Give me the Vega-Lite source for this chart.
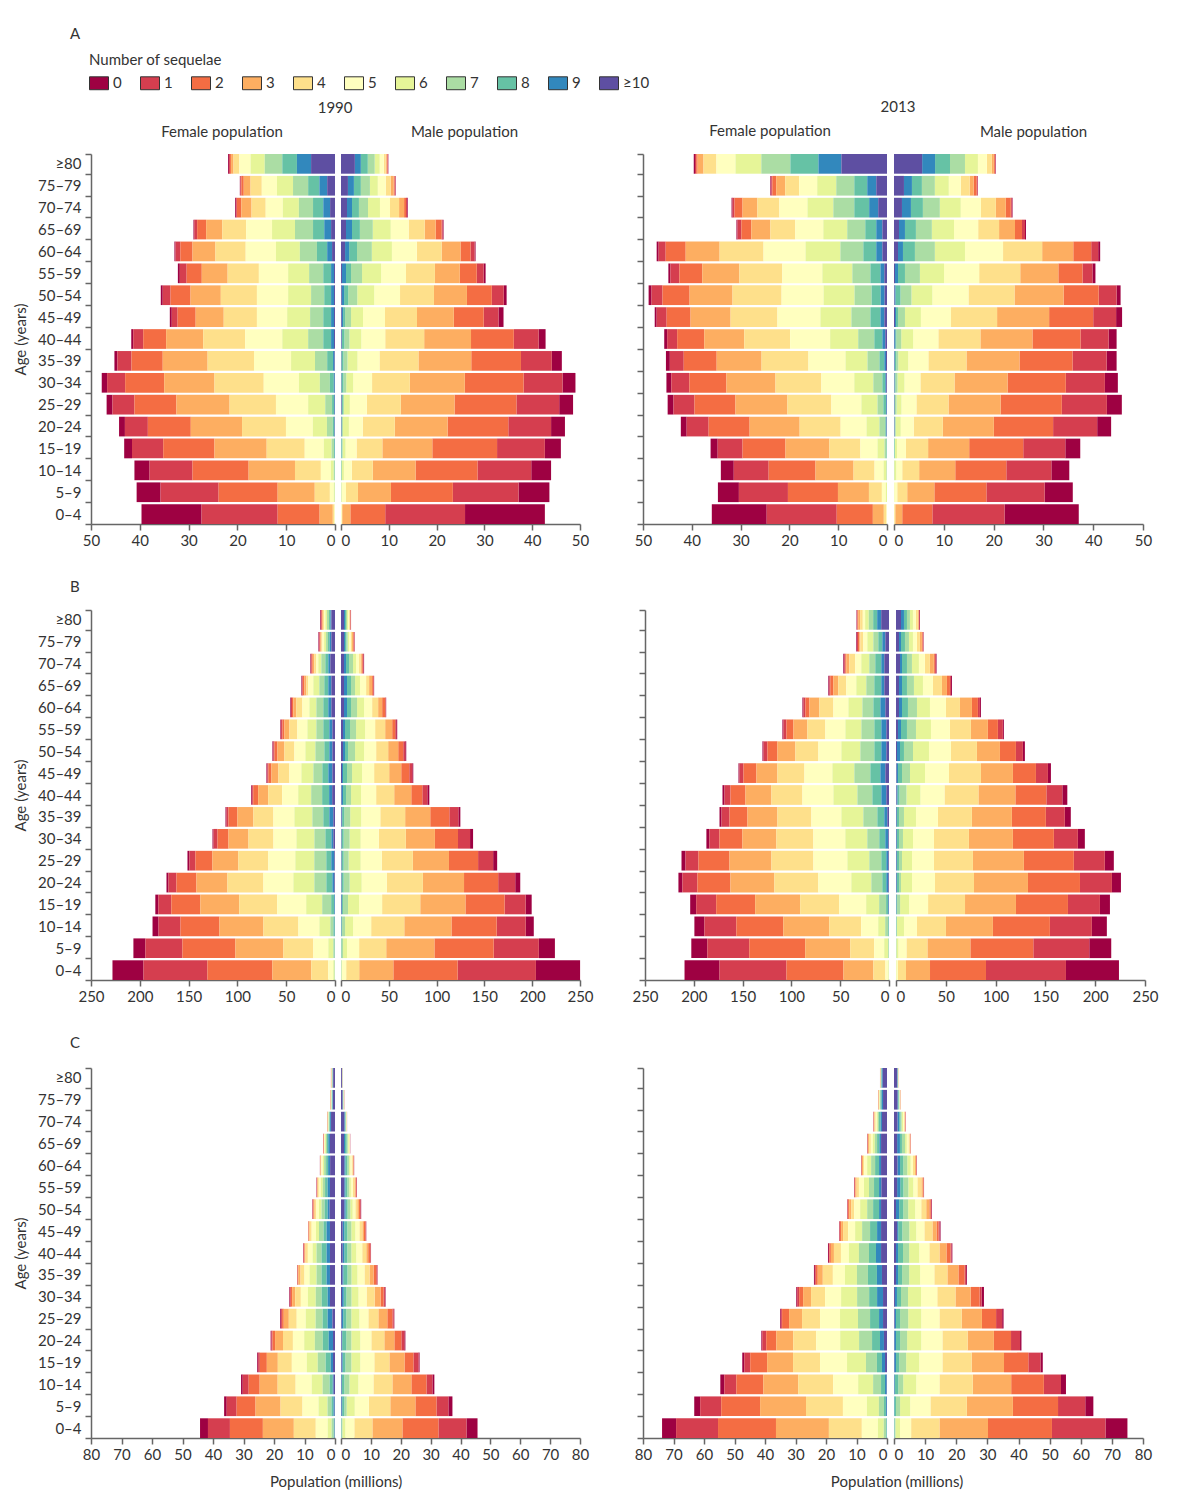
{
"$schema":"https://vega.github.io/schema/vega-lite/v6.json",
"padding":{"left":13,"top":27,"right":5,"bottom":5},
"background":"white",
"datasets":{"d":[
{"p":"A90F","a":"≥80","0":0.2,"1":0.2,"2":0.2,"3":0.5,"4":1.2,"5":2.3,"6":2.9,"7":3.6,"8":3.0,"9":2.9,"≥10":4.9},
{"p":"A90F","a":"75–79","0":0.1,"1":0.2,"2":0.5,"3":1.4,"4":2.3,"5":3.1,"6":3.3,"7":3.1,"8":2.3,"9":1.6,"≥10":1.6},
{"p":"A90F","a":"70–74","0":0.2,"1":0.15,"2":0.9,"3":2.1,"4":2.9,"5":3.5,"6":3.3,"7":2.9,"8":2.1,"9":1.4,"≥10":1.0},
{"p":"A90F","a":"65–69","0":0.15,"1":0.6,"2":1.85,"3":3.3,"4":4.9,"5":5.3,"6":4.7,"7":3.7,"8":2.3,"9":1.4,"≥10":0.8},
{"p":"A90F","a":"60–64","0":0.2,"1":1.0,"2":2.5,"3":4.7,"4":6.2,"5":6.2,"6":4.9,"7":3.5,"8":2.1,"9":1.0,"≥10":0.6},
{"p":"A90F","a":"55–59","0":0.4,"1":1.4,"2":3.1,"3":5.3,"4":6.4,"5":6.0,"6":4.3,"7":2.9,"8":1.6,"9":0.6,"≥10":0.2},
{"p":"A90F","a":"50–54","0":0.4,"1":1.6,"2":4.1,"3":6.2,"4":7.4,"5":6.4,"6":4.7,"7":2.7,"8":1.4,"9":0.6,"≥10":0.2},
{"p":"A90F","a":"45–49","0":0.4,"1":1.2,"2":3.7,"3":5.75,"4":6.8,"5":6.2,"6":4.7,"7":2.7,"8":1.6,"9":0.6,"≥10":0.2},
{"p":"A90F","a":"40–44","0":0.4,"1":2.05,"2":4.7,"3":7.6,"4":8.6,"5":7.6,"6":5.3,"7":3.1,"8":1.6,"9":0.6,"≥10":0.2},
{"p":"A90F","a":"35–39","0":0.6,"1":2.9,"2":6.4,"3":9.2,"4":9.5,"5":7.6,"6":4.9,"7":2.5,"8":1.2,"9":0.3,"≥10":0.1},
{"p":"A90F","a":"30–34","0":1.1,"1":3.7,"2":8.0,"3":10.3,"4":10.1,"5":7.2,"6":4.3,"7":2.05,"8":0.8,"9":0.2,"≥10":0.05},
{"p":"A90F","a":"25–29","0":1.2,"1":4.5,"2":8.6,"3":10.9,"4":9.5,"5":6.6,"6":3.5,"7":1.4,"8":0.4,"9":0.15,"≥10":0.05},
{"p":"A90F","a":"20–24","0":1.2,"1":4.7,"2":8.8,"3":10.5,"4":9.0,"5":5.5,"6":2.9,"7":1.2,"8":0.3,"9":0.1,"≥10":0.05},
{"p":"A90F","a":"15–19","0":1.6,"1":6.4,"2":10.5,"3":10.7,"4":7.8,"5":3.9,"6":1.6,"7":0.5,"8":0.15,"9":0.05,"≥10":0},
{"p":"A90F","a":"10–14","0":3.1,"1":8.8,"2":11.5,"3":9.5,"4":5.3,"5":2.05,"6":0.6,"7":0.2,"8":0.05,"9":0,"≥10":0},
{"p":"A90F","a":"5–9","0":4.9,"1":11.9,"2":12.1,"3":7.6,"4":3.1,"5":0.8,"6":0.2,"7":0.05,"8":0,"9":0,"≥10":0},
{"p":"A90F","a":"0–4","0":12.3,"1":15.6,"2":8.6,"3":2.7,"4":0.3,"5":0.1,"6":0.05,"7":0,"8":0,"9":0,"≥10":0},
{"p":"A90M","a":"≥80","0":0.1,"1":0.1,"2":0.15,"3":0.2,"4":0.4,"5":0.85,"6":1.05,"7":1.45,"8":1.45,"9":1.25,"≥10":2.9},
{"p":"A90M","a":"75–79","0":0.1,"1":0.15,"2":0.2,"3":0.6,"4":1.05,"5":1.65,"6":1.65,"7":1.9,"8":1.45,"9":1.25,"≥10":1.45},
{"p":"A90M","a":"70–74","0":0.15,"1":0.2,"2":0.4,"3":1.05,"4":1.9,"5":2.1,"6":2.5,"7":1.9,"8":1.45,"9":1.05,"≥10":1.25},
{"p":"A90M","a":"65–69","0":0.2,"1":0.2,"2":1.25,"3":2.3,"4":3.35,"5":3.75,"6":3.75,"7":2.7,"8":1.65,"9":1.25,"≥10":1.05},
{"p":"A90M","a":"60–64","0":0.2,"1":0.85,"2":2.1,"3":3.95,"4":5.2,"5":5.2,"6":4.2,"7":3.1,"8":1.65,"9":0.85,"≥10":0.85},
{"p":"A90M","a":"55–59","0":0.4,"1":1.45,"2":3.55,"3":5.2,"4":6.05,"5":5.2,"6":4.0,"7":2.3,"8":1.05,"9":0.85,"≥10":0.2},
{"p":"A90M","a":"50–54","0":0.6,"1":2.5,"2":5.2,"3":6.9,"4":7.1,"5":5.4,"6":3.55,"7":1.9,"8":0.85,"9":0.5,"≥10":0.15},
{"p":"A90M","a":"45–49","0":1.05,"1":3.1,"2":6.25,"3":7.7,"4":6.7,"5":4.6,"6":2.5,"7":1.25,"8":0.4,"9":0.3,"≥10":0.15},
{"p":"A90M","a":"40–44","0":1.45,"1":5.2,"2":8.95,"3":9.8,"4":8.15,"5":5.0,"6":2.5,"7":1.05,"8":0.5,"9":0.1,"≥10":0.1},
{"p":"A90M","a":"35–39","0":2.1,"1":6.45,"2":10.4,"3":11.05,"4":8.15,"5":4.6,"6":2.1,"7":0.85,"8":0.4,"9":0.05,"≥10":0.05},
{"p":"A90M","a":"30–34","0":2.7,"1":8.15,"2":12.3,"3":11.5,"4":7.9,"5":3.95,"6":1.45,"7":0.6,"8":0.4,"9":0.05,"≥10":0.05},
{"p":"A90M","a":"25–29","0":2.9,"1":8.95,"2":12.95,"3":11.25,"4":7.1,"5":3.55,"6":1.25,"7":0.2,"8":0.25,"9":0.05,"≥10":0.1},
{"p":"A90M","a":"20–24","0":2.9,"1":8.95,"2":12.7,"3":11.05,"4":6.7,"5":2.9,"6":1.25,"7":0.2,"8":0.1,"9":0.05,"≥10":0.05},
{"p":"A90M","a":"15–19","0":3.35,"1":10.0,"2":13.55,"3":10.45,"4":5.4,"5":2.3,"6":0.6,"7":0.2,"8":0.1,"9":0.05,"≥10":0},
{"p":"A90M","a":"10–14","0":4.15,"1":11.25,"2":12.95,"3":8.95,"4":4.4,"5":1.65,"6":0.4,"7":0.15,"8":0.05,"9":0,"≥10":0},
{"p":"A90M","a":"5–9","0":6.45,"1":13.75,"2":12.95,"3":6.9,"4":2.5,"5":0.9,"6":0.1,"7":0.05,"8":0,"9":0,"≥10":0},
{"p":"A90M","a":"0–4","0":16.7,"1":16.7,"2":7.3,"3":1.7,"4":0.1,"5":0.15,"6":0,"7":0,"8":0,"9":0,"≥10":0},
{"p":"A13F","a":"≥80","0":0.25,"1":0.25,"2":0.3,"3":1.2,"4":2.65,"5":3.9,"6":5.3,"7":5.95,"8":5.75,"9":4.7,"≥10":9.35},
{"p":"A13F","a":"75–79","0":0.2,"1":0.2,"2":0.8,"3":1.85,"4":2.85,"5":3.7,"6":3.9,"7":3.7,"8":2.65,"9":1.85,"≥10":2.2},
{"p":"A13F","a":"70–74","0":0.2,"1":0.4,"2":1.65,"3":3.05,"4":4.5,"5":5.75,"6":5.3,"7":4.3,"8":3.05,"9":1.85,"≥10":1.8},
{"p":"A13F","a":"65–69","0":0.2,"1":0.8,"2":2.05,"3":3.9,"4":5.1,"5":5.75,"6":4.9,"7":3.7,"8":2.25,"9":1.25,"≥10":0.95},
{"p":"A13F","a":"60–64","0":0.4,"1":1.45,"2":4.1,"3":6.95,"4":9.0,"5":8.6,"6":7.15,"7":4.7,"8":2.65,"9":1.25,"≥10":0.95},
{"p":"A13F","a":"55–59","0":0.4,"1":1.85,"2":4.7,"3":7.6,"4":8.8,"5":8.2,"6":6.15,"7":3.7,"8":2.05,"9":0.8,"≥10":0.55},
{"p":"A13F","a":"50–54","0":0.6,"1":2.25,"2":5.55,"3":8.8,"4":10.05,"5":8.6,"6":6.35,"7":3.5,"8":1.85,"9":0.8,"≥10":0.5},
{"p":"A13F","a":"45–49","0":0.4,"1":2.05,"2":4.9,"3":8.2,"4":9.6,"5":8.8,"6":6.35,"7":3.9,"8":2.05,"9":0.8,"≥10":0.55},
{"p":"A13F","a":"40–44","0":0.6,"1":2.05,"2":5.55,"3":8.2,"4":9.4,"5":8.2,"6":5.75,"7":3.3,"8":1.65,"9":0.6,"≥10":0.35},
{"p":"A13F","a":"35–39","0":0.8,"1":2.85,"2":6.75,"3":9.2,"4":9.6,"5":7.6,"6":4.5,"7":2.45,"8":1.0,"9":0.35,"≥10":0.2},
{"p":"A13F","a":"30–34","0":1.0,"1":3.7,"2":7.6,"3":10.05,"4":9.4,"5":6.75,"6":3.9,"7":1.85,"8":0.6,"9":0.2,"≥10":0.15},
{"p":"A13F","a":"25–29","0":1.2,"1":4.3,"2":8.4,"3":10.65,"4":9.0,"5":6.15,"6":3.3,"7":1.2,"8":0.55,"9":0.15,"≥10":0.05},
{"p":"A13F","a":"20–24","0":1.2,"1":4.5,"2":8.4,"3":10.25,"4":8.4,"5":5.3,"6":2.65,"7":1.2,"8":0.2,"9":0.1,"≥10":0.05},
{"p":"A13F","a":"15–19","0":1.45,"1":5.1,"2":8.8,"3":9.0,"4":6.35,"5":3.5,"6":1.45,"7":0.4,"8":0.1,"9":0,"≥10":0},
{"p":"A13F","a":"10–14","0":2.65,"1":7.15,"2":9.6,"3":7.8,"4":4.3,"5":1.85,"6":0.6,"7":0.1,"8":0,"9":0,"≥10":0},
{"p":"A13F","a":"5–9","0":4.3,"1":10.05,"2":10.25,"3":6.35,"4":2.65,"5":0.8,"6":0.25,"7":0,"8":0,"9":0,"≥10":0},
{"p":"A13F","a":"0–4","0":11.25,"1":14.35,"2":7.4,"3":2.25,"4":0.55,"5":0.1,"6":0,"7":0,"8":0,"9":0,"≥10":0},
{"p":"A13M","a":"≥80","0":0.1,"1":0.1,"2":0.2,"3":0.4,"4":1.0,"5":1.8,"6":2.6,"7":3.0,"8":3.0,"9":2.6,"≥10":5.65},
{"p":"A13M","a":"75–79","0":0.1,"1":0.15,"2":0.6,"3":0.8,"4":1.8,"5":2.4,"6":2.8,"7":2.6,"8":2.0,"9":1.6,"≥10":2.0},
{"p":"A13M","a":"70–74","0":0.15,"1":0.2,"2":1.0,"3":2.0,"4":3.0,"5":4.05,"6":4.2,"7":3.4,"8":2.4,"9":1.8,"≥10":1.6},
{"p":"A13M","a":"65–69","0":0.2,"1":0.6,"2":1.4,"3":3.2,"4":4.2,"5":4.85,"6":4.45,"7":3.2,"8":2.2,"9":1.2,"≥10":1.0},
{"p":"A13M","a":"60–64","0":0.4,"1":1.4,"2":3.6,"3":6.25,"4":7.85,"5":7.65,"6":6.05,"7":4.0,"8":2.4,"9":1.0,"≥10":0.8},
{"p":"A13M","a":"55–59","0":0.6,"1":2.0,"2":4.85,"3":7.65,"4":8.25,"5":7.05,"6":4.85,"7":3.0,"8":1.4,"9":0.6,"≥10":0.2},
{"p":"A13M","a":"50–54","0":0.8,"1":3.6,"2":7.05,"3":9.85,"4":9.25,"5":7.25,"6":4.2,"7":2.2,"8":1.0,"9":0.2,"≥10":0.1},
{"p":"A13M","a":"45–49","0":1.2,"1":4.6,"2":8.85,"3":10.45,"4":9.25,"5":6.05,"6":3.2,"7":1.4,"8":0.4,"9":0.2,"≥10":0.2},
{"p":"A13M","a":"40–44","0":1.6,"1":5.65,"2":9.65,"3":10.45,"4":8.45,"5":5.05,"6":2.4,"7":1.0,"8":0.2,"9":0.2,"≥10":0.05},
{"p":"A13M","a":"35–39","0":2.0,"1":6.85,"2":10.65,"3":10.65,"4":7.65,"5":4.05,"6":2.0,"7":0.4,"8":0.3,"9":0.1,"≥10":0.05},
{"p":"A13M","a":"30–34","0":2.6,"1":7.85,"2":11.7,"3":10.65,"4":6.85,"5":3.2,"6":1.4,"7":0.4,"8":0.2,"9":0.05,"≥10":0.05},
{"p":"A13M","a":"25–29","0":3.0,"1":9.05,"2":12.3,"3":10.45,"4":6.45,"5":3.0,"6":1.0,"7":0.3,"8":0.1,"9":0.05,"≥10":0.05},
{"p":"A13M","a":"20–24","0":2.8,"1":8.85,"2":11.9,"3":10.25,"4":5.85,"5":2.6,"6":1.0,"7":0.2,"8":0.05,"9":0.05,"≥10":0.05},
{"p":"A13M","a":"15–19","0":3.0,"1":8.45,"2":10.85,"3":8.25,"4":4.45,"5":1.8,"6":0.4,"7":0.1,"8":0.1,"9":0,"≥10":0},
{"p":"A13M","a":"10–14","0":3.6,"1":9.05,"2":10.25,"3":7.25,"4":3.4,"5":1.2,"6":0.4,"7":0.05,"8":0,"9":0,"≥10":0},
{"p":"A13M","a":"5–9","0":5.65,"1":11.7,"2":10.45,"3":5.45,"4":2.0,"5":0.6,"6":0.05,"7":0,"8":0,"9":0,"≥10":0},
{"p":"A13M","a":"0–4","0":14.9,"1":14.5,"2":6.05,"3":1.4,"4":0.2,"5":0.05,"6":0,"7":0,"8":0,"9":0,"≥10":0},
{"p":"B90F","a":"≥80","0":0.7,"1":0.7,"2":0.7,"3":0.7,"4":1.0,"5":1.4,"6":1.7,"7":2.0,"8":1.4,"9":1.0,"≥10":3.75},
{"p":"B90F","a":"75–79","0":0.7,"1":0.7,"2":0.7,"3":1.0,"4":1.0,"5":1.7,"6":2.0,"7":2.0,"8":1.7,"9":1.7,"≥10":3.75},
{"p":"B90F","a":"70–74","0":0.7,"1":0.7,"2":1.0,"3":1.7,"4":2.0,"5":2.0,"6":3.1,"7":4.1,"8":3.1,"9":2.0,"≥10":4.8},
{"p":"B90F","a":"65–69","0":0.7,"1":0.7,"2":1.7,"3":2.0,"4":2.0,"5":5.1,"6":6.15,"7":5.1,"8":4.1,"9":3.1,"≥10":3.75},
{"p":"B90F","a":"60–64","0":0.7,"1":1.0,"2":1.4,"3":3.1,"4":6.15,"5":7.15,"6":7.15,"7":7.15,"8":5.1,"9":3.1,"≥10":3.75},
{"p":"B90F","a":"55–59","0":0.7,"1":1.4,"2":2.0,"3":5.1,"4":8.2,"5":10.25,"6":9.2,"7":7.15,"8":6.15,"9":3.1,"≥10":2.7},
{"p":"B90F","a":"50–54","0":1.0,"1":1.0,"2":3.1,"3":7.15,"4":10.25,"5":11.25,"6":10.25,"7":9.2,"8":5.1,"9":3.1,"≥10":2.7},
{"p":"B90F","a":"45–49","0":1.0,"1":1.0,"2":3.1,"3":7.15,"4":11.25,"5":12.3,"6":12.3,"7":9.2,"8":6.15,"9":4.1,"≥10":2.7},
{"p":"B90F","a":"40–44","0":1.0,"1":1.0,"2":5.1,"3":10.25,"4":14.35,"5":16.4,"6":13.3,"7":11.25,"8":7.15,"9":3.1,"≥10":2.9},
{"p":"B90F","a":"35–39","0":1.0,"1":2.0,"2":9.2,"3":16.4,"4":20.5,"5":21.5,"6":18.4,"7":11.25,"8":6.15,"9":4.1,"≥10":1.7},
{"p":"B90F","a":"30–34","0":1.0,"1":4.1,"2":11.25,"3":20.5,"4":25.6,"5":23.55,"6":18.4,"7":11.25,"8":6.15,"9":2.0,"≥10":1.7},
{"p":"B90F","a":"25–29","0":2.0,"1":6.15,"2":17.4,"3":26.6,"4":30.7,"5":27.65,"6":19.45,"7":12.3,"8":5.1,"9":3.1,"≥10":0.7},
{"p":"B90F","a":"20–24","0":2.0,"1":8.2,"2":20.5,"3":31.75,"4":36.85,"5":30.7,"6":21.5,"7":12.3,"8":6.15,"9":2.0,"≥10":0.7},
{"p":"B90F","a":"15–19","0":3.1,"1":13.3,"2":29.7,"3":39.9,"4":38.9,"5":29.7,"6":16.4,"7":9.2,"8":3.1,"9":0.7,"≥10":0.1},
{"p":"B90F","a":"10–14","0":6.15,"1":22.5,"2":39.9,"3":45.05,"4":35.85,"5":21.5,"6":11.25,"7":3.1,"8":1.4,"9":0.2,"≥10":0.05},
{"p":"B90F","a":"5–9","0":12.3,"1":37.9,"2":54.3,"3":49.15,"4":30.7,"5":15.35,"6":5.1,"7":1.4,"8":0.3,"9":0.05,"≥10":0},
{"p":"B90F","a":"0–4","0":31.75,"1":65.5,"2":66.55,"3":39.9,"4":17.4,"5":5.1,"6":1.4,"7":0.3,"8":0.1,"9":0,"≥10":0},
{"p":"B90M","a":"≥80","0":0.35,"1":0.35,"2":0.35,"3":0.35,"4":0.7,"5":1.05,"6":1.05,"7":1.05,"8":1.05,"9":1.05,"≥10":3.15},
{"p":"B90M","a":"75–79","0":0.35,"1":0.7,"2":0.7,"3":1.05,"4":1.4,"5":1.75,"6":1.4,"7":1.4,"8":1.4,"9":1.05,"≥10":3.15},
{"p":"B90M","a":"70–74","0":0.7,"1":0.7,"2":1.05,"3":1.05,"4":1.75,"5":3.15,"6":3.15,"7":4.2,"8":3.15,"9":2.1,"≥10":3.15},
{"p":"B90M","a":"65–69","0":0.35,"1":0.7,"2":1.05,"3":3.15,"4":3.15,"5":6.3,"6":5.25,"7":4.2,"8":4.2,"9":3.15,"≥10":3.15},
{"p":"B90M","a":"60–64","0":0.35,"1":0.7,"2":3.15,"3":4.2,"4":6.3,"5":8.4,"6":7.35,"7":6.3,"8":4.2,"9":3.15,"≥10":3.15},
{"p":"B90M","a":"55–59","0":1.05,"1":1.05,"2":3.15,"3":7.35,"4":10.5,"5":10.5,"6":9.45,"7":6.3,"8":5.25,"9":2.1,"≥10":2.1},
{"p":"B90M","a":"50–54","0":1.05,"1":2.1,"2":5.25,"3":10.5,"4":12.6,"5":12.6,"6":9.45,"7":7.35,"8":3.15,"9":2.1,"≥10":2.1},
{"p":"B90M","a":"45–49","0":1.05,"1":3.15,"2":8.4,"3":12.6,"4":15.75,"5":12.6,"6":10.5,"7":5.25,"8":4.2,"9":1.05,"≥10":1.05},
{"p":"B90M","a":"40–44","0":2.1,"1":5.25,"2":11.55,"3":17.85,"4":18.9,"5":15.75,"6":10.5,"7":5.25,"8":3.15,"9":1.6,"≥10":0.5},
{"p":"B90M","a":"35–39","0":2.1,"1":9.45,"2":19.95,"3":26.25,"4":26.0,"5":19.95,"6":11.55,"7":6.3,"8":2.1,"9":0.7,"≥10":0.5},
{"p":"B90M","a":"30–34","0":3.15,"1":12.6,"2":24.15,"3":30.45,"4":28.35,"5":18.9,"6":11.55,"7":6.3,"8":2.1,"9":0.3,"≥10":0.3},
{"p":"B90M","a":"25–29","0":4.2,"1":15.75,"2":30.45,"3":37.8,"4":32.55,"5":22.05,"6":12.6,"7":5.25,"8":2.1,"9":0.3,"≥10":0.3},
{"p":"B90M","a":"20–24","0":5.25,"1":17.85,"2":35.7,"3":43.05,"4":37.8,"5":26.25,"6":12.6,"7":6.3,"8":2.1,"9":0.3,"≥10":0.3},
{"p":"B90M","a":"15–19","0":6.3,"1":22.05,"2":40.95,"3":47.25,"4":39.9,"5":24.15,"6":11.55,"7":5.25,"8":1.05,"9":0.7,"≥10":0.3},
{"p":"B90M","a":"10–14","0":8.4,"1":30.45,"2":47.25,"3":49.35,"4":34.65,"5":18.9,"6":8.4,"7":3.15,"8":0.7,"9":0.3,"≥10":0.1},
{"p":"B90M","a":"5–9","0":16.8,"1":47.25,"2":62.0,"3":50.4,"4":28.35,"5":12.6,"6":4.2,"7":1.75,"8":0.3,"9":0.1,"≥10":0},
{"p":"B90M","a":"0–4","0":46.2,"1":81.95,"2":67.2,"3":35.7,"4":13.65,"5":4.5,"6":0.5,"7":0.3,"8":0.1,"9":0,"≥10":0},
{"p":"B13F","a":"≥80","0":0.5,"1":0.5,"2":0.7,"3":2.0,"4":2.7,"5":2.4,"6":3.75,"7":4.5,"8":4.1,"9":4.1,"≥10":8.0},
{"p":"B13F","a":"75–79","0":0.7,"1":1.0,"2":1.4,"3":1.0,"4":3.1,"5":4.1,"6":6.15,"7":5.1,"8":4.1,"9":3.1,"≥10":3.75},
{"p":"B13F","a":"70–74","0":1.0,"1":1.0,"2":1.0,"3":3.1,"4":6.15,"5":6.15,"6":8.2,"7":6.15,"8":6.15,"9":3.1,"≥10":4.8},
{"p":"B13F","a":"65–69","0":1.0,"1":1.0,"2":3.1,"3":5.1,"4":8.2,"5":10.25,"6":10.25,"7":8.2,"8":7.15,"9":3.1,"≥10":4.8},
{"p":"B13F","a":"60–64","0":1.0,"1":2.05,"2":4.1,"3":10.25,"4":14.35,"5":15.35,"6":14.35,"7":11.25,"8":7.15,"9":5.1,"≥10":3.75},
{"p":"B13F","a":"55–59","0":1.0,"1":3.1,"2":7.15,"3":14.35,"4":18.4,"5":20.5,"6":16.4,"7":13.3,"8":7.15,"9":5.1,"≥10":2.75},
{"p":"B13F","a":"50–54","0":1.0,"1":4.1,"2":10.25,"3":18.4,"4":23.55,"5":23.55,"6":19.45,"7":14.35,"8":7.15,"9":5.1,"≥10":2.75},
{"p":"B13F","a":"45–49","0":1.0,"1":4.1,"2":13.3,"3":21.5,"4":27.65,"5":28.65,"6":22.5,"7":16.4,"8":10.25,"9":5.1,"≥10":3.75},
{"p":"B13F","a":"40–44","0":2.05,"1":6.15,"2":15.35,"3":26.6,"4":31.75,"5":31.75,"6":24.55,"7":15.35,"8":9.2,"9":5.1,"≥10":2.75},
{"p":"B13F","a":"35–39","0":2.05,"1":8.2,"2":18.4,"3":30.7,"4":34.8,"5":30.7,"6":22.5,"7":14.35,"8":7.15,"9":3.1,"≥10":1.7},
{"p":"B13F","a":"30–34","0":3.1,"1":10.25,"2":23.55,"3":34.8,"4":37.9,"5":32.75,"6":22.5,"7":12.3,"8":6.15,"9":3.1,"≥10":0.7},
{"p":"B13F","a":"25–29","0":4.1,"1":13.3,"2":31.75,"3":43.0,"4":43.0,"5":34.8,"6":22.5,"7":12.3,"8":5.1,"9":2.05,"≥10":0.7},
{"p":"B13F","a":"20–24","0":4.1,"1":15.35,"2":33.8,"3":45.05,"4":45.05,"5":33.8,"6":20.5,"7":11.25,"8":4.1,"9":2.05,"≥10":0.7},
{"p":"B13F","a":"15–19","0":6.15,"1":20.5,"2":39.95,"3":46.1,"4":39.95,"5":27.65,"6":13.3,"7":7.15,"8":2.05,"9":0.7,"≥10":0.2},
{"p":"B13F","a":"10–14","0":10.25,"1":32.75,"2":48.1,"3":47.1,"4":32.75,"5":17.4,"6":7.15,"7":3.1,"8":0.7,"9":0.1,"≥10":0},
{"p":"B13F","a":"5–9","0":16.4,"1":43.0,"2":57.35,"3":46.1,"4":24.55,"5":10.25,"6":4.1,"7":0.7,"8":0.1,"9":0,"≥10":0},
{"p":"B13F","a":"0–4","0":35.85,"1":68.6,"2":58.35,"3":30.7,"4":12.3,"5":3.1,"6":0.5,"7":0.1,"8":0,"9":0,"≥10":0},
{"p":"B13M","a":"≥80","0":0.7,"1":0.35,"2":0.35,"3":0.7,"4":2.0,"5":3.0,"6":3.0,"7":3.0,"8":3.0,"9":3.0,"≥10":5.0},
{"p":"B13M","a":"75–79","0":0.35,"1":0.7,"2":0.7,"3":2.0,"4":3.0,"5":4.0,"6":4.0,"7":4.0,"8":4.0,"9":2.0,"≥10":3.0},
{"p":"B13M","a":"70–74","0":0.7,"1":1.0,"2":1.0,"3":4.0,"4":5.0,"5":6.0,"6":7.0,"7":5.0,"8":5.0,"9":2.0,"≥10":4.0},
{"p":"B13M","a":"65–69","0":1.0,"1":1.0,"2":3.0,"3":5.0,"4":9.05,"5":10.05,"6":9.05,"7":7.0,"8":5.0,"9":3.0,"≥10":3.0},
{"p":"B13M","a":"60–64","0":1.0,"1":2.0,"2":6.0,"3":12.05,"4":14.05,"5":16.05,"6":13.05,"7":9.05,"8":6.0,"9":3.0,"≥10":3.0},
{"p":"B13M","a":"55–59","0":1.0,"1":5.0,"2":10.05,"3":17.05,"4":21.05,"5":19.05,"6":15.05,"7":9.05,"8":6.0,"9":3.0,"≥10":2.0},
{"p":"B13M","a":"50–54","0":2.0,"1":7.0,"2":16.05,"3":23.1,"4":26.1,"5":22.05,"6":16.05,"7":9.05,"8":4.0,"9":3.0,"≥10":1.0},
{"p":"B13M","a":"45–49","0":3.0,"1":12.05,"2":23.1,"3":32.1,"4":32.1,"5":24.1,"6":15.05,"7":8.05,"8":4.0,"9":1.5,"≥10":0.5},
{"p":"B13M","a":"40–44","0":5.0,"1":16.05,"2":31.1,"3":37.1,"4":34.1,"5":24.1,"6":14.05,"7":7.0,"8":2.0,"9":1.0,"≥10":0.5},
{"p":"B13M","a":"35–39","0":6.0,"1":19.05,"2":34.1,"3":40.15,"4":34.1,"5":22.05,"6":12.05,"7":5.0,"8":2.0,"9":0.7,"≥10":0.3},
{"p":"B13M","a":"30–34","0":7.0,"1":24.1,"2":41.15,"3":44.15,"4":35.1,"5":21.05,"6":10.05,"7":4.0,"8":2.0,"9":0.7,"≥10":0.3},
{"p":"B13M","a":"25–29","0":9.05,"1":31.1,"2":50.15,"3":51.15,"4":39.15,"5":22.05,"6":10.05,"7":3.0,"8":2.0,"9":0.7,"≥10":0.3},
{"p":"B13M","a":"20–24","0":9.05,"1":32.1,"2":52.2,"3":54.2,"4":39.15,"5":23.1,"6":11.05,"7":2.0,"8":2.0,"9":0.7,"≥10":0.3},
{"p":"B13M","a":"15–19","0":10.05,"1":32.1,"2":52.2,"3":51.15,"4":37.1,"5":19.05,"6":9.05,"7":3.0,"8":0.7,"9":0.3,"≥10":0.1},
{"p":"B13M","a":"10–14","0":15.05,"1":42.15,"2":57.2,"3":47.15,"4":29.1,"5":13.05,"6":7.0,"7":0.6,"8":0.3,"9":0.1,"≥10":0},
{"p":"B13M","a":"5–9","0":22.05,"1":56.2,"2":63.2,"3":43.15,"4":21.05,"5":8.05,"6":2.0,"7":0.3,"8":0.1,"9":0,"≥10":0},
{"p":"B13M","a":"0–4","0":53.2,"1":80.3,"2":56.2,"3":24.1,"4":8.05,"5":1.5,"6":0.5,"7":0,"8":0,"9":0,"≥10":0},
{"p":"C90F","a":"≥80","0":0.03,"1":0.05,"2":0.05,"3":0.05,"4":0.05,"5":0.1,"6":0.1,"7":0.1,"8":0.1,"9":0.1,"≥10":0.6},
{"p":"C90F","a":"75–79","0":0.03,"1":0.05,"2":0.05,"3":0.05,"4":0.1,"5":0.1,"6":0.1,"7":0.15,"8":0.15,"9":0.15,"≥10":0.65},
{"p":"C90F","a":"70–74","0":0.05,"1":0.05,"2":0.05,"3":0.05,"4":0.1,"5":0.1,"6":0.15,"7":0.2,"8":0.25,"9":0.3,"≥10":1.3},
{"p":"C90F","a":"65–69","0":0.05,"1":0.1,"2":0.1,"3":0.1,"4":0.1,"5":0.2,"6":0.3,"7":0.3,"8":0.45,"9":0.55,"≥10":1.65},
{"p":"C90F","a":"60–64","0":0.05,"1":0.05,"2":0.1,"3":0.1,"4":0.2,"5":0.45,"6":0.45,"7":0.65,"8":0.65,"9":0.65,"≥10":1.6},
{"p":"C90F","a":"55–59","0":0.1,"1":0.1,"2":0.1,"3":0.2,"4":0.3,"5":0.65,"6":0.65,"7":0.75,"8":0.85,"9":0.75,"≥10":1.65},
{"p":"C90F","a":"50–54","0":0.1,"1":0.2,"2":0.2,"3":0.3,"4":0.55,"5":0.85,"6":0.85,"7":1.0,"8":1.0,"9":0.65,"≥10":1.75},
{"p":"C90F","a":"45–49","0":0.05,"1":0.1,"2":0.1,"3":0.3,"4":0.65,"5":1.4,"6":1.0,"7":1.5,"8":1.0,"9":1.1,"≥10":1.65},
{"p":"C90F","a":"40–44","0":0.1,"1":0.2,"2":0.2,"3":0.3,"4":0.75,"5":1.55,"6":1.3,"7":1.65,"8":1.65,"9":1.1,"≥10":1.65},
{"p":"C90F","a":"35–39","0":0.1,"1":0.1,"2":0.2,"3":0.75,"4":1.3,"5":1.65,"6":2.3,"7":1.65,"8":1.65,"9":1.1,"≥10":1.65},
{"p":"C90F","a":"30–34","0":0.2,"1":0.3,"2":0.45,"3":1.0,"4":1.85,"5":2.3,"6":2.6,"7":1.95,"8":1.95,"9":0.75,"≥10":1.65},
{"p":"C90F","a":"25–29","0":0.3,"1":0.3,"2":0.55,"3":1.65,"4":2.6,"5":2.95,"6":3.25,"7":2.3,"8":1.65,"9":1.55,"≥10":0.85},
{"p":"C90F","a":"20–24","0":0.3,"1":0.3,"2":0.85,"3":2.6,"4":3.25,"5":3.7,"6":3.5,"7":2.6,"8":1.95,"9":1.4,"≥10":0.65},
{"p":"C90F","a":"15–19","0":0.3,"1":0.55,"2":2.3,"3":3.6,"4":4.6,"5":4.9,"6":3.6,"7":2.6,"8":1.65,"9":0.75,"≥10":0.65},
{"p":"C90F","a":"10–14","0":0.55,"1":1.95,"2":3.6,"3":5.9,"4":5.9,"5":5.25,"6":3.6,"7":2.3,"8":1.0,"9":0.3,"≥10":0.45},
{"p":"C90F","a":"5–9","0":0.85,"1":3.25,"2":6.2,"3":8.2,"4":7.2,"5":5.25,"6":2.95,"7":1.3,"8":0.65,"9":0.4,"≥10":0.1},
{"p":"C90F","a":"0–4","0":2.6,"1":7.2,"2":10.8,"3":10.15,"4":7.2,"5":3.9,"6":1.3,"7":0.65,"8":0.3,"9":0.1,"≥10":0.05},
{"p":"C90M","a":"≥80","0":0.02,"1":0.02,"2":0.02,"3":0.02,"4":0.02,"5":0.03,"6":0.03,"7":0.04,"8":0.04,"9":0.04,"≥10":0.3},
{"p":"C90M","a":"75–79","0":0.02,"1":0.03,"2":0.03,"3":0.03,"4":0.05,"5":0.05,"6":0.1,"7":0.1,"8":0.1,"9":0.1,"≥10":0.5},
{"p":"C90M","a":"70–74","0":0.02,"1":0.03,"2":0.03,"3":0.05,"4":0.05,"5":0.1,"6":0.1,"7":0.15,"8":0.2,"9":0.2,"≥10":1.1},
{"p":"C90M","a":"65–69","0":0.05,"1":0.05,"2":0.05,"3":0.05,"4":0.1,"5":0.2,"6":0.35,"7":0.35,"8":0.55,"9":0.35,"≥10":1.0},
{"p":"C90M","a":"60–64","0":0.1,"1":0.1,"2":0.1,"3":0.2,"4":0.35,"5":0.45,"6":0.45,"7":0.55,"8":0.65,"9":0.35,"≥10":1.1},
{"p":"C90M","a":"55–59","0":0.1,"1":0.2,"2":0.2,"3":0.35,"4":0.55,"5":0.65,"6":0.55,"7":0.65,"8":0.65,"9":0.35,"≥10":1.1},
{"p":"C90M","a":"50–54","0":0.2,"1":0.2,"2":0.35,"3":0.55,"4":0.65,"5":0.9,"6":0.8,"7":0.9,"8":0.65,"9":0.45,"≥10":1.1},
{"p":"C90M","a":"45–49","0":0.1,"1":0.2,"2":0.45,"3":0.55,"4":1.0,"5":1.35,"6":1.35,"7":1.35,"8":1.0,"9":0.55,"≥10":0.55},
{"p":"C90M","a":"40–44","0":0.1,"1":0.2,"2":0.65,"3":0.65,"4":1.35,"5":2.0,"6":1.65,"7":1.35,"8":1.0,"9":0.55,"≥10":0.55},
{"p":"C90M","a":"35–39","0":0.1,"1":0.35,"2":0.9,"3":1.35,"4":1.7,"5":2.35,"6":2.0,"7":1.35,"8":1.35,"9":0.35,"≥10":0.45},
{"p":"C90M","a":"30–34","0":0.2,"1":0.45,"2":1.0,"3":2.0,"4":2.7,"5":2.7,"6":2.35,"7":1.7,"8":0.9,"9":0.55,"≥10":0.35},
{"p":"C90M","a":"25–29","0":0.2,"1":0.45,"2":1.7,"3":3.0,"4":3.35,"5":3.0,"6":2.7,"7":1.7,"8":1.0,"9":0.55,"≥10":0.2},
{"p":"C90M","a":"20–24","0":0.35,"1":1.0,"2":2.35,"3":3.35,"4":4.35,"5":3.7,"6":3.0,"7":1.7,"8":1.35,"9":0.2,"≥10":0.2},
{"p":"C90M","a":"15–19","0":0.35,"1":1.7,"2":3.0,"3":5.05,"4":5.05,"5":4.7,"6":3.0,"7":2.0,"8":0.9,"9":0.35,"≥10":0.2},
{"p":"C90M","a":"10–14","0":0.65,"1":2.0,"2":5.05,"3":6.35,"4":6.35,"5":5.05,"6":3.0,"7":1.7,"8":0.8,"9":0.2,"≥10":0.1},
{"p":"C90M","a":"5–9","0":1.35,"1":4.0,"2":7.05,"3":8.4,"4":7.2,"5":4.7,"6":2.7,"7":0.8,"8":0.7,"9":0.3,"≥10":0.1},
{"p":"C90M","a":"0–4","0":3.7,"1":9.4,"2":12.05,"3":10.05,"4":6.05,"5":3.0,"6":1.0,"7":0.3,"8":0.1,"9":0.05,"≥10":0},
{"p":"C13F","a":"≥80","0":0.03,"1":0.05,"2":0.05,"3":0.05,"4":0.05,"5":0.05,"6":0.07,"7":0.1,"8":0.15,"9":0.3,"≥10":1.4},
{"p":"C13F","a":"75–79","0":0.05,"1":0.05,"2":0.05,"3":0.1,"4":0.1,"5":0.1,"6":0.2,"7":0.2,"8":0.35,"9":0.45,"≥10":1.3},
{"p":"C13F","a":"70–74","0":0.05,"1":0.1,"2":0.1,"3":0.2,"4":0.35,"5":0.35,"6":0.35,"7":0.35,"8":0.55,"9":0.45,"≥10":1.65},
{"p":"C13F","a":"65–69","0":0.1,"1":0.1,"2":0.1,"3":0.35,"4":0.55,"5":0.65,"6":0.65,"7":0.75,"8":0.75,"9":0.55,"≥10":1.95},
{"p":"C13F","a":"60–64","0":0.1,"1":0.1,"2":0.1,"3":0.35,"4":0.35,"5":1.0,"6":1.3,"7":1.3,"8":1.3,"9":0.65,"≥10":1.95},
{"p":"C13F","a":"55–59","0":0.1,"1":0.2,"2":0.1,"3":0.45,"4":0.75,"5":1.65,"6":1.65,"7":1.65,"8":1.65,"9":0.75,"≥10":1.85},
{"p":"C13F","a":"50–54","0":0.1,"1":0.2,"2":0.35,"3":0.65,"4":1.0,"5":1.95,"6":2.3,"7":1.95,"8":1.95,"9":0.65,"≥10":1.95},
{"p":"C13F","a":"45–49","0":0.1,"1":0.2,"2":0.35,"3":0.65,"4":1.65,"5":2.3,"6":2.3,"7":2.6,"8":2.3,"9":1.3,"≥10":1.95},
{"p":"C13F","a":"40–44","0":0.3,"1":0.2,"2":0.45,"3":1.0,"4":2.3,"5":2.6,"6":3.3,"7":3.3,"8":2.3,"9":1.65,"≥10":1.95},
{"p":"C13F","a":"35–39","0":0.3,"1":0.3,"2":0.65,"3":1.65,"4":3.3,"5":3.95,"6":3.95,"7":3.6,"8":2.95,"9":1.65,"≥10":1.65},
{"p":"C13F","a":"30–34","0":0.3,"1":0.65,"2":1.3,"3":2.6,"4":4.6,"5":5.25,"6":5.25,"7":3.95,"8":2.6,"9":1.95,"≥10":1.3},
{"p":"C13F","a":"25–29","0":0.3,"1":0.3,"2":2.3,"3":4.25,"4":5.9,"5":6.55,"6":5.9,"7":3.95,"8":2.95,"9":1.3,"≥10":1.3},
{"p":"C13F","a":"20–24","0":0.3,"1":1.3,"2":3.3,"3":5.55,"4":7.55,"5":7.85,"6":6.2,"7":4.25,"8":2.6,"9":1.3,"≥10":1.0},
{"p":"C13F","a":"15–19","0":0.65,"1":1.95,"2":5.55,"3":8.5,"4":8.85,"5":8.85,"6":6.2,"7":3.6,"8":1.65,"9":1.0,"≥10":0.65},
{"p":"C13F","a":"10–14","0":1.3,"1":3.95,"2":8.85,"3":11.45,"4":11.45,"5":8.2,"6":4.9,"7":2.6,"8":1.3,"9":0.55,"≥10":0.1},
{"p":"C13F","a":"5–9","0":1.95,"1":6.9,"2":12.75,"3":15.05,"4":12.1,"5":7.85,"6":3.95,"7":1.65,"8":0.65,"9":0.3,"≥10":0.05},
{"p":"C13F","a":"0–4","0":4.6,"1":13.75,"2":19.0,"3":17.35,"4":10.8,"5":5.25,"6":1.95,"7":0.8,"8":0.2,"9":0.05,"≥10":0},
{"p":"C13M","a":"≥80","0":0.01,"1":0.01,"2":0.02,"3":0.03,"4":0.04,"5":0.05,"6":0.06,"7":0.08,"8":0.1,"9":0.1,"≥10":1.0},
{"p":"C13M","a":"75–79","0":0.02,"1":0.03,"2":0.05,"3":0.05,"4":0.1,"5":0.1,"6":0.1,"7":0.2,"8":0.2,"9":0.2,"≥10":1.1},
{"p":"C13M","a":"70–74","0":0.05,"1":0.1,"2":0.1,"3":0.1,"4":0.2,"5":0.3,"6":0.45,"7":0.35,"8":0.45,"9":0.55,"≥10":1.1},
{"p":"C13M","a":"65–69","0":0.05,"1":0.05,"2":0.1,"3":0.2,"4":0.35,"5":0.55,"6":0.55,"7":1.0,"8":0.65,"9":0.9,"≥10":1.0},
{"p":"C13M","a":"60–64","0":0.1,"1":0.1,"2":0.1,"3":0.3,"4":0.65,"5":0.75,"6":1.1,"7":1.3,"8":1.0,"9":0.85,"≥10":1.1},
{"p":"C13M","a":"55–59","0":0.1,"1":0.1,"2":0.2,"3":0.45,"4":1.3,"5":1.3,"6":1.6,"7":1.6,"8":1.0,"9":1.0,"≥10":1.0},
{"p":"C13M","a":"50–54","0":0.2,"1":0.2,"2":0.45,"3":1.0,"4":1.6,"5":1.95,"6":2.25,"7":1.6,"8":1.3,"9":1.0,"≥10":0.65},
{"p":"C13M","a":"45–49","0":0.3,"1":0.35,"2":0.65,"3":1.3,"4":2.6,"5":2.6,"6":2.25,"7":2.25,"8":1.3,"9":0.35,"≥10":1.0},
{"p":"C13M","a":"40–44","0":0.3,"1":0.3,"2":1.3,"3":2.25,"4":3.25,"5":3.25,"6":3.25,"7":1.95,"8":1.6,"9":0.65,"≥10":0.65},
{"p":"C13M","a":"35–39","0":0.3,"1":0.45,"2":1.95,"3":3.55,"4":4.2,"5":4.55,"6":3.55,"7":2.25,"8":1.3,"9":0.65,"≥10":0.65},
{"p":"C13M","a":"30–34","0":0.75,"1":0.65,"2":2.9,"3":4.85,"4":5.85,"5":5.2,"6":4.2,"7":2.25,"8":1.3,"9":0.65,"≥10":0.3},
{"p":"C13M","a":"25–29","0":0.45,"1":1.95,"2":4.55,"3":6.5,"4":7.15,"5":5.85,"6":4.2,"7":2.6,"8":1.3,"9":0.45,"≥10":0.2},
{"p":"C13M","a":"20–24","0":0.45,"1":2.9,"2":5.5,"3":8.45,"4":8.1,"5":6.8,"6":4.55,"7":2.25,"8":1.3,"9":0.55,"≥10":0.1},
{"p":"C13M","a":"15–19","0":0.75,"1":3.9,"2":7.8,"3":10.4,"4":9.4,"5":7.45,"6":4.2,"7":2.25,"8":1.0,"9":0.55,"≥10":0.1},
{"p":"C13M","a":"10–14","0":1.6,"1":5.5,"2":10.5,"3":12.35,"4":10.7,"5":7.45,"6":4.2,"7":1.6,"8":1.1,"9":0.2,"≥10":0.05},
{"p":"C13M","a":"5–9","0":2.6,"1":8.75,"2":14.5,"3":14.8,"4":11.7,"5":6.5,"6":3.25,"7":1.3,"8":0.55,"9":0.1,"≥10":0},
{"p":"C13M","a":"0–4","0":7.05,"1":17.2,"2":20.55,"3":15.6,"4":9.1,"5":3.55,"6":1.5,"7":0.3,"8":0.1,"9":0.05,"≥10":0}
]},
"data":{"name":"d"},
"config":{
"font":"Lato",
"view":{"stroke":null},
"axis":{"labelFontSize":15,"labelColor":"#333","titleFontSize":15,"titleFontWeight":"normal","titleColor":"#333","domainColor":"#666","tickColor":"#666","domainWidth":1.5,"tickWidth":1.5,"tickSize":6,"grid":false,"labelPadding":3},
"title":{"fontSize":15,"fontWeight":"normal","color":"#333","font":"Lato"},
"legend":{"titleFontSize":15,"titleFontWeight":"normal","titleColor":"#333","labelFontSize":15,"labelColor":"#333","symbolType":"M-1,-0.68H1V0.68H-1Z","symbolSize":361,"symbolStrokeColor":"#333","symbolStrokeWidth":1,"labelOffset":4,"columnPadding":-2,"gridAlign":"all","titlePadding":5}
},
"spacing":32,
"vconcat":[
{"title":{"text":"A","anchor":"start","frame":"group","offset":58,"dx":-21},
 "spacing":45,
 "hconcat":[
  {"title":{"text":"1990","anchor":"middle","frame":"bounds","offset":9,"dx":34},"spacing":6,"bounds":"flush","hconcat":[
   {"width":244,"height":370,"title":{"text":"Female population","anchor":"middle","offset":14,"dx":9,"dy":7},
    "transform":[{"filter":"datum.p == 'A90F'"},{"fold":["0","1","2","3","4","5","6","7","8","9","≥10"],"as":["k","v"]}],
    "mark":"bar",
    "encoding":{
     "y":{"field":"a","type":"nominal","scale":{"domain":["≥80","75–79","70–74","65–69","60–64","55–59","50–54","45–49","40–44","35–39","30–34","25–29","20–24","15–19","10–14","5–9","0–4"],"paddingInner":0.1,"paddingOuter":0},"axis":{"title":"Age (years)","tickBand":"extent","labelPadding":4,"titlePadding":9}},
     "x":{"field":"v","type":"quantitative","stack":"zero","scale":{"domain":[0,50],"reverse":true,"nice":false},"axis":{"title":null,"values":[0,10,20,30,40,50],"labelFlush":false,"labelAlign":{"condition":{"test":"datum.value === 0","value":"right"},"value":"center"}}},
     "color":{"field":"k","type":"nominal","scale":{"domain":["0","1","2","3","4","5","6","7","8","9","≥10"],"range":["#9e0142","#d53e4f","#f46d43","#fdae61","#fee08b","#ffffbf","#e6f598","#abdda4","#66c2a5","#3288bd","#5e4fa2"]},"legend":{"title":"Number of sequelae","orient":"none","legendX":-2,"legendY":-101,"direction":"horizontal","columns":11}},
     "order":{"field":"k","type":"ordinal","sort":"descending"}}},
   {"width":239,"height":370,"title":{"text":"Male population","anchor":"middle","offset":14,"dx":4},
    "transform":[{"filter":"datum.p == 'A90M'"},{"fold":["0","1","2","3","4","5","6","7","8","9","≥10"],"as":["k","v"]}],
    "mark":"bar",
    "encoding":{
     "y":{"field":"a","type":"nominal","scale":{"domain":["≥80","75–79","70–74","65–69","60–64","55–59","50–54","45–49","40–44","35–39","30–34","25–29","20–24","15–19","10–14","5–9","0–4"],"paddingInner":0.1,"paddingOuter":0},"axis":null},
     "x":{"field":"v","type":"quantitative","stack":"zero","scale":{"domain":[0,50],"nice":false},"axis":{"title":null,"values":[0,10,20,30,40,50],"labelFlush":false,"labelAlign":{"condition":{"test":"datum.value === 0","value":"left"},"value":"center"}}},
     "color":{"field":"k","type":"nominal","scale":{"domain":["0","1","2","3","4","5","6","7","8","9","≥10"],"range":["#9e0142","#d53e4f","#f46d43","#fdae61","#fee08b","#ffffbf","#e6f598","#abdda4","#66c2a5","#3288bd","#5e4fa2"]},"legend":{"title":"Number of sequelae","orient":"none","legendX":-2,"legendY":-101,"direction":"horizontal","columns":11}},
     "order":{"field":"k","type":"ordinal","sort":"descending"}}}
  ]},
  {"title":{"text":"2013","anchor":"middle","frame":"bounds","offset":9,"dx":5},"spacing":7,"bounds":"flush","hconcat":[
   {"width":244,"height":370,"title":{"text":"Female population","anchor":"middle","offset":14,"dx":5},
    "transform":[{"filter":"datum.p == 'A13F'"},{"fold":["0","1","2","3","4","5","6","7","8","9","≥10"],"as":["k","v"]}],
    "mark":"bar",
    "encoding":{
     "y":{"field":"a","type":"nominal","scale":{"domain":["≥80","75–79","70–74","65–69","60–64","55–59","50–54","45–49","40–44","35–39","30–34","25–29","20–24","15–19","10–14","5–9","0–4"],"paddingInner":0.1,"paddingOuter":0},"axis":{"title":null,"labels":false,"tickBand":"extent"}},
     "x":{"field":"v","type":"quantitative","stack":"zero","scale":{"domain":[0,50],"reverse":true,"nice":false},"axis":{"title":null,"values":[0,10,20,30,40,50],"labelFlush":false,"labelAlign":{"condition":{"test":"datum.value === 0","value":"right"},"value":"center"}}},
     "color":{"field":"k","type":"nominal","scale":{"domain":["0","1","2","3","4","5","6","7","8","9","≥10"],"range":["#9e0142","#d53e4f","#f46d43","#fdae61","#fee08b","#ffffbf","#e6f598","#abdda4","#66c2a5","#3288bd","#5e4fa2"]},"legend":{"title":"Number of sequelae","orient":"none","legendX":-2,"legendY":-101,"direction":"horizontal","columns":11}},
     "order":{"field":"k","type":"ordinal","sort":"descending"}}},
   {"width":249,"height":370,"title":{"text":"Male population","anchor":"middle","offset":14,"dx":15},
    "transform":[{"filter":"datum.p == 'A13M'"},{"fold":["0","1","2","3","4","5","6","7","8","9","≥10"],"as":["k","v"]}],
    "mark":"bar",
    "encoding":{
     "y":{"field":"a","type":"nominal","scale":{"domain":["≥80","75–79","70–74","65–69","60–64","55–59","50–54","45–49","40–44","35–39","30–34","25–29","20–24","15–19","10–14","5–9","0–4"],"paddingInner":0.1,"paddingOuter":0},"axis":null},
     "x":{"field":"v","type":"quantitative","stack":"zero","scale":{"domain":[0,50],"nice":false},"axis":{"title":null,"values":[0,10,20,30,40,50],"labelFlush":false,"labelAlign":{"condition":{"test":"datum.value === 0","value":"left"},"value":"center"}}},
     "color":{"field":"k","type":"nominal","scale":{"domain":["0","1","2","3","4","5","6","7","8","9","≥10"],"range":["#9e0142","#d53e4f","#f46d43","#fdae61","#fee08b","#ffffbf","#e6f598","#abdda4","#66c2a5","#3288bd","#5e4fa2"]},"legend":{"title":"Number of sequelae","orient":"none","legendX":-2,"legendY":-101,"direction":"horizontal","columns":11}},
     "order":{"field":"k","type":"ordinal","sort":"descending"}}}
  ]}
 ]},
{"title":{"text":"B","anchor":"start","frame":"group","offset":8,"dx":-21},
 "spacing":37,
 "hconcat":[
  {"spacing":6,"bounds":"flush","hconcat":[
   {"width":244,"height":370,
    "transform":[{"filter":"datum.p == 'B90F'"},{"fold":["0","1","2","3","4","5","6","7","8","9","≥10"],"as":["k","v"]}],
    "mark":"bar",
    "encoding":{
     "y":{"field":"a","type":"nominal","scale":{"domain":["≥80","75–79","70–74","65–69","60–64","55–59","50–54","45–49","40–44","35–39","30–34","25–29","20–24","15–19","10–14","5–9","0–4"],"paddingInner":0.1,"paddingOuter":0},"axis":{"title":"Age (years)","tickBand":"extent","labelPadding":4,"titlePadding":9}},
     "x":{"field":"v","type":"quantitative","stack":"zero","scale":{"domain":[0,250],"reverse":true,"nice":false},"axis":{"title":null,"values":[0,50,100,150,200,250],"labelFlush":false,"labelAlign":{"condition":{"test":"datum.value === 0","value":"right"},"value":"center"}}},
     "color":{"field":"k","type":"nominal","scale":{"domain":["0","1","2","3","4","5","6","7","8","9","≥10"],"range":["#9e0142","#d53e4f","#f46d43","#fdae61","#fee08b","#ffffbf","#e6f598","#abdda4","#66c2a5","#3288bd","#5e4fa2"]},"legend":{"title":"Number of sequelae","orient":"none","legendX":-2,"legendY":-101,"direction":"horizontal","columns":11}},
     "order":{"field":"k","type":"ordinal","sort":"descending"}}},
   {"width":239,"height":370,
    "transform":[{"filter":"datum.p == 'B90M'"},{"fold":["0","1","2","3","4","5","6","7","8","9","≥10"],"as":["k","v"]}],
    "mark":"bar",
    "encoding":{
     "y":{"field":"a","type":"nominal","scale":{"domain":["≥80","75–79","70–74","65–69","60–64","55–59","50–54","45–49","40–44","35–39","30–34","25–29","20–24","15–19","10–14","5–9","0–4"],"paddingInner":0.1,"paddingOuter":0},"axis":null},
     "x":{"field":"v","type":"quantitative","stack":"zero","scale":{"domain":[0,250],"nice":false},"axis":{"title":null,"values":[0,50,100,150,200,250],"labelFlush":false,"labelAlign":{"condition":{"test":"datum.value === 0","value":"left"},"value":"center"}}},
     "color":{"field":"k","type":"nominal","scale":{"domain":["0","1","2","3","4","5","6","7","8","9","≥10"],"range":["#9e0142","#d53e4f","#f46d43","#fdae61","#fee08b","#ffffbf","#e6f598","#abdda4","#66c2a5","#3288bd","#5e4fa2"]},"legend":{"title":"Number of sequelae","orient":"none","legendX":-2,"legendY":-101,"direction":"horizontal","columns":11}},
     "order":{"field":"k","type":"ordinal","sort":"descending"}}}
  ]},
  {"spacing":7,"bounds":"flush","hconcat":[
   {"width":244,"height":370,
    "transform":[{"filter":"datum.p == 'B13F'"},{"fold":["0","1","2","3","4","5","6","7","8","9","≥10"],"as":["k","v"]}],
    "mark":"bar",
    "encoding":{
     "y":{"field":"a","type":"nominal","scale":{"domain":["≥80","75–79","70–74","65–69","60–64","55–59","50–54","45–49","40–44","35–39","30–34","25–29","20–24","15–19","10–14","5–9","0–4"],"paddingInner":0.1,"paddingOuter":0},"axis":{"title":null,"labels":false,"tickBand":"extent"}},
     "x":{"field":"v","type":"quantitative","stack":"zero","scale":{"domain":[0,250],"reverse":true,"nice":false},"axis":{"title":null,"values":[0,50,100,150,200,250],"labelFlush":false,"labelAlign":{"condition":{"test":"datum.value === 0","value":"right"},"value":"center"}}},
     "color":{"field":"k","type":"nominal","scale":{"domain":["0","1","2","3","4","5","6","7","8","9","≥10"],"range":["#9e0142","#d53e4f","#f46d43","#fdae61","#fee08b","#ffffbf","#e6f598","#abdda4","#66c2a5","#3288bd","#5e4fa2"]},"legend":{"title":"Number of sequelae","orient":"none","legendX":-2,"legendY":-101,"direction":"horizontal","columns":11}},
     "order":{"field":"k","type":"ordinal","sort":"descending"}}},
   {"width":249,"height":370,
    "transform":[{"filter":"datum.p == 'B13M'"},{"fold":["0","1","2","3","4","5","6","7","8","9","≥10"],"as":["k","v"]}],
    "mark":"bar",
    "encoding":{
     "y":{"field":"a","type":"nominal","scale":{"domain":["≥80","75–79","70–74","65–69","60–64","55–59","50–54","45–49","40–44","35–39","30–34","25–29","20–24","15–19","10–14","5–9","0–4"],"paddingInner":0.1,"paddingOuter":0},"axis":null},
     "x":{"field":"v","type":"quantitative","stack":"zero","scale":{"domain":[0,250],"nice":false},"axis":{"title":null,"values":[0,50,100,150,200,250],"labelFlush":false,"labelAlign":{"condition":{"test":"datum.value === 0","value":"left"},"value":"center"}}},
     "color":{"field":"k","type":"nominal","scale":{"domain":["0","1","2","3","4","5","6","7","8","9","≥10"],"range":["#9e0142","#d53e4f","#f46d43","#fdae61","#fee08b","#ffffbf","#e6f598","#abdda4","#66c2a5","#3288bd","#5e4fa2"]},"legend":{"title":"Number of sequelae","orient":"none","legendX":-2,"legendY":-101,"direction":"horizontal","columns":11}},
     "order":{"field":"k","type":"ordinal","sort":"descending"}}}
  ]}
 ]},
{"title":{"text":"C","anchor":"start","frame":"group","offset":10,"dx":-21},
 "spacing":45,
 "hconcat":[
  {"title":{"text":"Population (millions)","orient":"bottom","anchor":"middle","frame":"bounds","offset":13,"dx":35},"spacing":6,"bounds":"flush","hconcat":[
   {"width":244,"height":370,
    "transform":[{"filter":"datum.p == 'C90F'"},{"fold":["0","1","2","3","4","5","6","7","8","9","≥10"],"as":["k","v"]}],
    "mark":"bar",
    "encoding":{
     "y":{"field":"a","type":"nominal","scale":{"domain":["≥80","75–79","70–74","65–69","60–64","55–59","50–54","45–49","40–44","35–39","30–34","25–29","20–24","15–19","10–14","5–9","0–4"],"paddingInner":0.1,"paddingOuter":0},"axis":{"title":"Age (years)","tickBand":"extent","labelPadding":4,"titlePadding":9}},
     "x":{"field":"v","type":"quantitative","stack":"zero","scale":{"domain":[0,80],"reverse":true,"nice":false},"axis":{"title":null,"values":[0,10,20,30,40,50,60,70,80],"labelFlush":false,"labelAlign":{"condition":{"test":"datum.value === 0","value":"right"},"value":"center"}}},
     "color":{"field":"k","type":"nominal","scale":{"domain":["0","1","2","3","4","5","6","7","8","9","≥10"],"range":["#9e0142","#d53e4f","#f46d43","#fdae61","#fee08b","#ffffbf","#e6f598","#abdda4","#66c2a5","#3288bd","#5e4fa2"]},"legend":{"title":"Number of sequelae","orient":"none","legendX":-2,"legendY":-101,"direction":"horizontal","columns":11}},
     "order":{"field":"k","type":"ordinal","sort":"descending"}}},
   {"width":239,"height":370,
    "transform":[{"filter":"datum.p == 'C90M'"},{"fold":["0","1","2","3","4","5","6","7","8","9","≥10"],"as":["k","v"]}],
    "mark":"bar",
    "encoding":{
     "y":{"field":"a","type":"nominal","scale":{"domain":["≥80","75–79","70–74","65–69","60–64","55–59","50–54","45–49","40–44","35–39","30–34","25–29","20–24","15–19","10–14","5–9","0–4"],"paddingInner":0.1,"paddingOuter":0},"axis":null},
     "x":{"field":"v","type":"quantitative","stack":"zero","scale":{"domain":[0,80],"nice":false},"axis":{"title":null,"values":[0,10,20,30,40,50,60,70,80],"labelFlush":false,"labelAlign":{"condition":{"test":"datum.value === 0","value":"left"},"value":"center"}}},
     "color":{"field":"k","type":"nominal","scale":{"domain":["0","1","2","3","4","5","6","7","8","9","≥10"],"range":["#9e0142","#d53e4f","#f46d43","#fdae61","#fee08b","#ffffbf","#e6f598","#abdda4","#66c2a5","#3288bd","#5e4fa2"]},"legend":{"title":"Number of sequelae","orient":"none","legendX":-2,"legendY":-101,"direction":"horizontal","columns":11}},
     "order":{"field":"k","type":"ordinal","sort":"descending"}}}
  ]},
  {"title":{"text":"Population (millions)","orient":"bottom","anchor":"middle","frame":"bounds","offset":13,"dx":4},"spacing":7,"bounds":"flush","hconcat":[
   {"width":244,"height":370,
    "transform":[{"filter":"datum.p == 'C13F'"},{"fold":["0","1","2","3","4","5","6","7","8","9","≥10"],"as":["k","v"]}],
    "mark":"bar",
    "encoding":{
     "y":{"field":"a","type":"nominal","scale":{"domain":["≥80","75–79","70–74","65–69","60–64","55–59","50–54","45–49","40–44","35–39","30–34","25–29","20–24","15–19","10–14","5–9","0–4"],"paddingInner":0.1,"paddingOuter":0},"axis":{"title":null,"labels":false,"tickBand":"extent"}},
     "x":{"field":"v","type":"quantitative","stack":"zero","scale":{"domain":[0,80],"reverse":true,"nice":false},"axis":{"title":null,"values":[0,10,20,30,40,50,60,70,80],"labelFlush":false,"labelAlign":{"condition":{"test":"datum.value === 0","value":"right"},"value":"center"}}},
     "color":{"field":"k","type":"nominal","scale":{"domain":["0","1","2","3","4","5","6","7","8","9","≥10"],"range":["#9e0142","#d53e4f","#f46d43","#fdae61","#fee08b","#ffffbf","#e6f598","#abdda4","#66c2a5","#3288bd","#5e4fa2"]},"legend":{"title":"Number of sequelae","orient":"none","legendX":-2,"legendY":-101,"direction":"horizontal","columns":11}},
     "order":{"field":"k","type":"ordinal","sort":"descending"}}},
   {"width":249,"height":370,
    "transform":[{"filter":"datum.p == 'C13M'"},{"fold":["0","1","2","3","4","5","6","7","8","9","≥10"],"as":["k","v"]}],
    "mark":"bar",
    "encoding":{
     "y":{"field":"a","type":"nominal","scale":{"domain":["≥80","75–79","70–74","65–69","60–64","55–59","50–54","45–49","40–44","35–39","30–34","25–29","20–24","15–19","10–14","5–9","0–4"],"paddingInner":0.1,"paddingOuter":0},"axis":null},
     "x":{"field":"v","type":"quantitative","stack":"zero","scale":{"domain":[0,80],"nice":false},"axis":{"title":null,"values":[0,10,20,30,40,50,60,70,80],"labelFlush":false,"labelAlign":{"condition":{"test":"datum.value === 0","value":"left"},"value":"center"}}},
     "color":{"field":"k","type":"nominal","scale":{"domain":["0","1","2","3","4","5","6","7","8","9","≥10"],"range":["#9e0142","#d53e4f","#f46d43","#fdae61","#fee08b","#ffffbf","#e6f598","#abdda4","#66c2a5","#3288bd","#5e4fa2"]},"legend":{"title":"Number of sequelae","orient":"none","legendX":-2,"legendY":-101,"direction":"horizontal","columns":11}},
     "order":{"field":"k","type":"ordinal","sort":"descending"}}}
  ]}
 ]}
]
}
